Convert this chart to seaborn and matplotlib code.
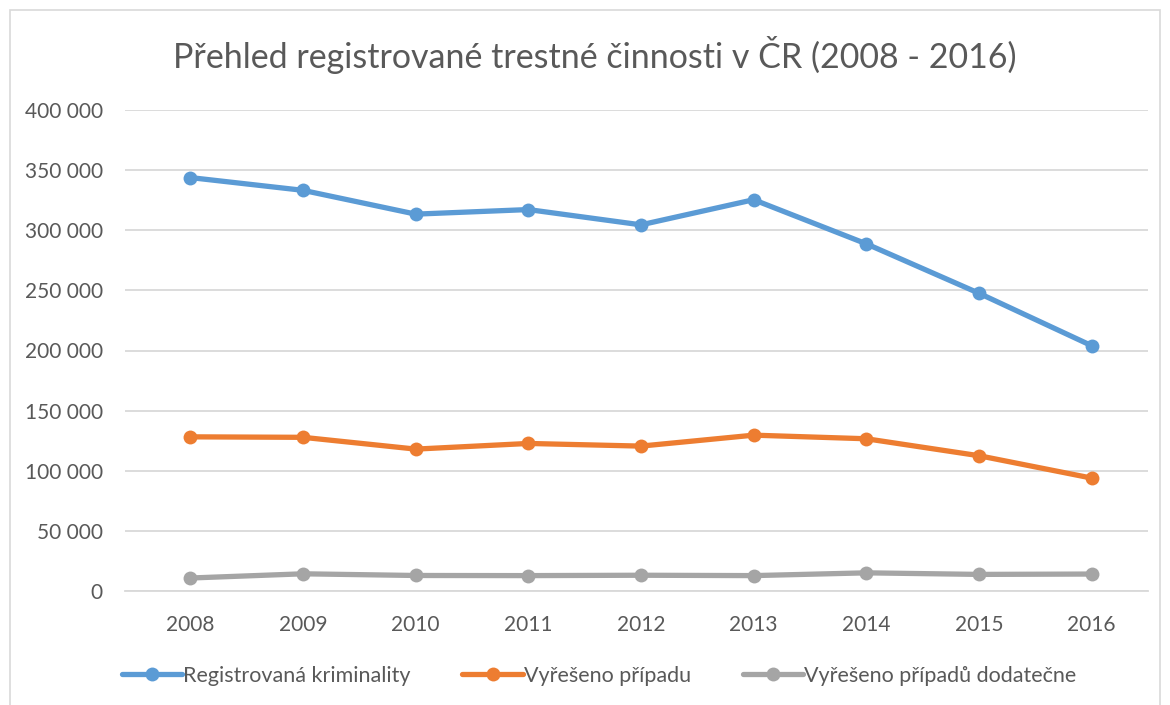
import matplotlib
import matplotlib.pyplot as plt
import pandas as pd
import seaborn as sns
from matplotlib.patches import Rectangle
from matplotlib.ticker import FuncFormatter

matplotlib.use("Agg")

# --- DATA ---
YEARS = ["2008", "2009", "2010", "2011", "2012", "2013", "2014", "2015", "2016"]
REGISTERED = [343800, 333200, 313400, 317200, 304500, 325400, 288700, 247600, 204000]
SOLVED = [128200, 127800, 118000, 122700, 120500, 129600, 126600, 112500, 93900]
SOLVED_LATER = [10800, 14300, 12900, 12800, 13100, 12800, 15100, 13800, 14100]
SERIES = ["Registrovaná kriminality", "Vyřešeno případu", "Vyřešeno případů dodatečne"]
COLORS = ["#5B9BD5", "#ED7D31", "#A5A5A5"]
TITLE = "Přehled registrované trestné činnosti v ČR (2008 - 2016)"
TEXT = "#595959"

df = pd.DataFrame({
    "year": YEARS * 3,
    "value": REGISTERED + SOLVED + SOLVED_LATER,
    "series": [SERIES[0]] * 9 + [SERIES[1]] * 9 + [SERIES[2]] * 9,
})
df["x"] = df["year"].map({y: i for i, y in enumerate(YEARS)})

sns.set_theme(style="white")
plt.rcParams["font.family"] = ["Lato", "DejaVu Sans"]

fig = plt.figure(figsize=(11.7, 7.05), dpi=100)
W, H = 1170, 705
ax = fig.add_axes([125 / W, 1 - 591 / H, (1148 - 125) / W, (591 - 110) / H])

sns.lineplot(data=df, x="x", y="value", hue="series", palette=COLORS,
             marker="o", markersize=10, markeredgewidth=0, linewidth=3.8,
             ax=ax, legend=False)

ax.set_xlim(-0.58, 8.5)
ax.set_ylim(0, 400000)
ax.set_xticks(range(len(YEARS)))
ax.set_xticklabels(YEARS)
ax.set_yticks(range(0, 400001, 50000))
ax.yaxis.set_major_formatter(FuncFormatter(lambda v, _: f"{int(v):,}".replace(",", " ")))
ax.tick_params(axis="both", length=0, labelsize=15, labelcolor=TEXT)
ax.tick_params(axis="x", pad=17)
ax.tick_params(axis="y", pad=16)
ax.grid(axis="y", color="#D9D9D9", linewidth=1.3)
ax.set_axisbelow(True)
for s in ["top", "right", "left"]:
    ax.spines[s].set_visible(False)
ax.spines["bottom"].set_color("#D9D9D9")
ax.spines["bottom"].set_linewidth(1.3)
ax.set_xlabel("")
ax.set_ylabel("")

fig.text(0.508, 1 - 55 / H, TITLE, ha="center", va="center", fontsize=24.5, color=TEXT)

handles = [plt.Line2D([], [], color=c, marker="o", markersize=10, markeredgewidth=0, linewidth=3.8)
           for c in COLORS]
fig.legend(handles, SERIES, loc="center", bbox_to_anchor=(0.512, 1 - 676 / H), ncol=3,
           frameon=False, fontsize=15.5, labelcolor=TEXT, handlelength=2.8,
           handletextpad=0.05, columnspacing=2.4)

fig.patches.append(Rectangle((10 / W, -0.1), (1160 - 10) / W, 1.1 - 10 / H,
                             transform=fig.transFigure, fill=False,
                             edgecolor="#D9D9D9", linewidth=1.2))

fig.savefig("out.png", dpi=100)
